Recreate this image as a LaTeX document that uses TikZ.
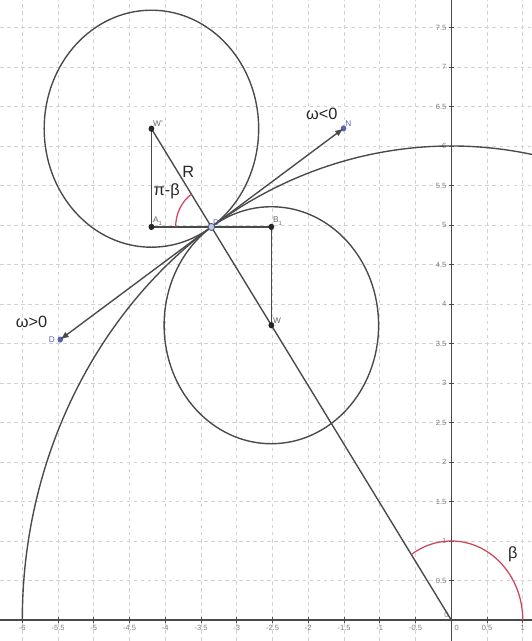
\documentclass[tikz,border=0pt]{standalone}
\usepackage{fontspec}
\setmainfont{Liberation Sans}
\usepackage{tikz}
\usetikzlibrary{calc,arrows.meta}
\definecolor{ggline}{HTML}{4A4A4A}
\definecolor{gggrid}{HTML}{D2D2D2}
\definecolor{ggblue}{HTML}{5566AA}
\definecolor{ggred}{HTML}{D0455A}

\begin{document}
\begin{tikzpicture}[yscale=1.105, font=\fontsize{6.5}{8}\selectfont,
  curve/.style={ggline, line width=0.55pt},
  vec/.style={ggline, line width=0.55pt, -{Latex[length=3.4pt,width=2.6pt]}},
  angarc/.style={ggred, line width=0.5pt},
  ticklab/.style={font=\fontsize{3}{3.5}\selectfont, gray, inner sep=0.6pt},
  ptlab/.style={font=\fontsize{3.3}{3.8}\selectfont, gray!80!black, inner sep=0.5pt},
  bluelab/.style={ptlab, ggblue}]

  \useasboundingbox (-6.312,-0.266) rectangle (1.129,7.848);
  \clip (-6.312,-0.266) rectangle (1.129,7.848);

  % ---- grid and axes ----
  \draw[gggrid, dash pattern=on 1.4pt off 1.4pt, line width=0.35pt, step=0.5]
    (-6.312,-0.266) grid (1.129,7.848);
  \draw[ggline, line width=0.45pt] (-6.312,0) -- (1.129,0);
  \draw[ggline, line width=0.45pt] (0,-0.266) -- (0,7.848);
  \foreach \x in {-6,-5.5,-5,-4.5,-4,-3.5,-3,-2.5,-2,-1.5,-1,-0.5,0.5,1} {
    \draw[ggline, line width=0.35pt] (\x,0.035) -- (\x,-0.035);
    \node[ticklab, below] at (\x,-0.04) {\x};
  }
  \foreach \y in {0.5,1,1.5,2,2.5,3,3.5,4,4.5,5,5.5,6,6.5,7,7.5} {
    \draw[ggline, line width=0.35pt] (-0.035,\y) -- (0.035,\y);
    \node[ticklab, left] at (-0.04,\y) {\y};
  }
  \node[ticklab, below right] at (0.02,-0.04) {0};
  \node[ticklab, above left] at (-0.01,0.01) {0};

  % ---- points ----
  \coordinate (O) at (0,0);
  \coordinate (D) at (124:6);
  \coordinate (Wp) at (124:7.5);
  \coordinate (W) at (124:4.5);
  \coordinate (A1) at (Wp |- D);
  \coordinate (B1) at (W |- D);
  \coordinate (N) at ($(D)+(34:2.23)$);
  \coordinate (Dp) at ($(D)+(214:2.55)$);

  % ---- circles ----
  \draw[curve] (-6,0) arc[start angle=180, end angle=70, radius=6];
  \draw[curve] (Wp) circle (1.5);
  \draw[curve] (W) circle (1.5);

  % ---- segments ----
  \draw[curve] (Wp) -- (O);
  \draw[curve] (Wp) -- (A1);
  \draw[curve] (A1) -- (B1);
  \draw[curve] (W) -- (B1);
  \fill[ggblue] (N) circle (1.1pt);
  \fill[ggblue] (Dp) circle (1.1pt);
  \draw[vec] (D) -- (N);
  \draw[vec] (D) -- (Dp);

  % ---- angles ----
  \draw[angarc] (1,0) arc[start angle=0, end angle=124, radius=1];
  \draw[angarc] ($(D)+(-0.5,0)$) arc[start angle=180, end angle=124, radius=0.5];

  % dots
  \foreach \p in {Wp,W,A1,B1} \fill[black!85] (\p) circle (1.15pt);
  \draw[ggblue!80!black, fill=ggblue!35, line width=0.3pt] (D) circle (1.3pt);

  % ---- labels ----
  \node[ptlab, anchor=south west] (lWp) at (Wp) {W'};
  \node[ptlab, anchor=south west] (lW) at (W) {W};
  \node[ptlab, anchor=south west] (lA1) at (A1) {A\textsubscript{1}};
  \node[ptlab, anchor=south west] (lB1) at (B1) {B\textsubscript{1}};
  \node[bluelab, anchor=south west] (lD) at (D) {D};
  \node[bluelab, anchor=south west] (lN) at (N) {N};
  \node[bluelab, anchor=east] (lDp) at ($(Dp)+(-0.05,0)$) {D};
  \node[black!85] (lR) at (-3.68,5.67) {R};
  \node[black!85] (lpb) at (-3.98,5.43) {π-β};
  \node[black!85] (lneg) at (-1.81,6.41) {ω<0};
  \node[black!85] (lpos) at (-5.87,3.77) {ω>0};
  \node[black!85] (lbeta) at (0.86,0.835) {β};

\end{tikzpicture}
\end{document}
